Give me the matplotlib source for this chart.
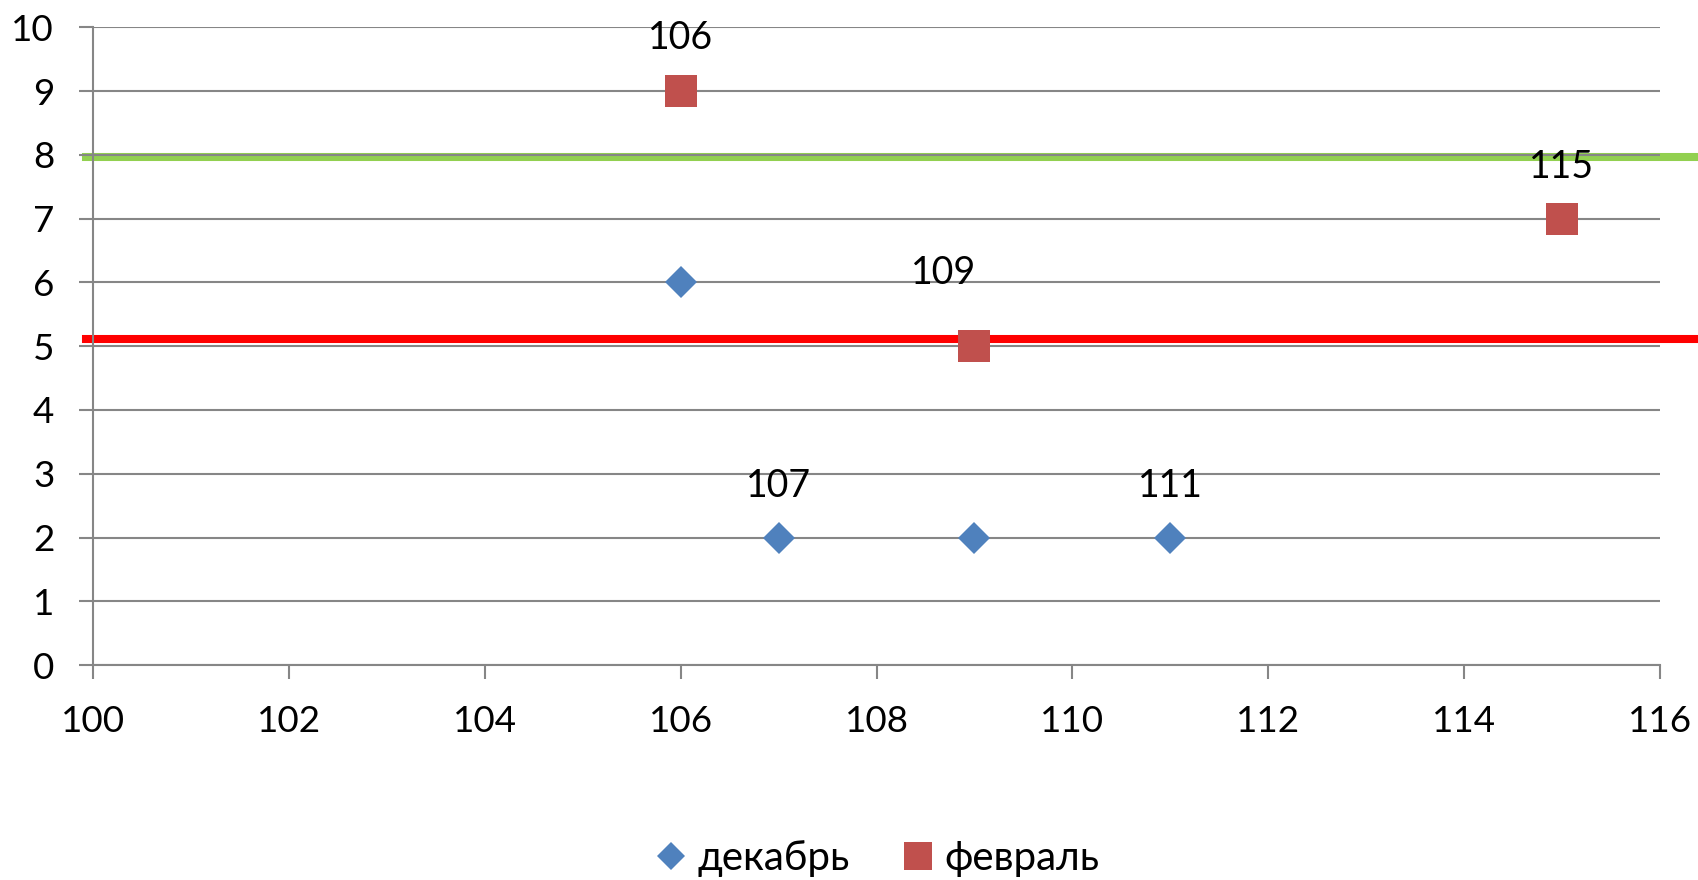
import matplotlib
matplotlib.use("Agg")
import matplotlib.pyplot as plt
from matplotlib.lines import Line2D

plt.rcParams["font.family"] = ["Lato", "Open Sans", "DejaVu Sans"]

# data
dec_x = [106, 107, 109, 111]
dec_y = [6, 2, 2, 2]
feb_x = [106, 109, 115]
feb_y = [9, 5, 7]
series_names = ["декабрь", "февраль"]

# point labels: (x, y, text)
point_labels = [
    (106, 9, "106"),
    (109, 5, "109"),
    (115, 7, "115"),
    (107, 2, "107"),
    (111, 2, "111"),
]
# offsets (points) for the labels
label_offsets = [(0, 38), (-22, 53), (0, 37), (0, 37), (0, 37)]

green_level = 7.965
red_level = 5.12

x_ticks = list(range(100, 117, 2))
y_ticks = list(range(0, 11))

BLUE = "#4F81BD"
RED = "#C0504D"
GRID = "#868686"

fig = plt.figure(figsize=(16.98, 8.8), dpi=100)
ax = fig.add_axes([0.0548, 0.2443, 0.9228, 0.7245])

ax.axhline(green_level, xmin=-0.0045, xmax=1.03, color="#92D050", linewidth=5.8,
           clip_on=False, zorder=0.8)
ax.axhline(red_level, xmin=-0.0045, xmax=1.03, color="#FF0000", linewidth=5.8,
           clip_on=False, zorder=0.8)

ax.plot(dec_x, dec_y, linestyle="none", marker="D", markersize=16.8,
        color=BLUE, markeredgewidth=0, zorder=3)
ax.plot(feb_x, feb_y, linestyle="none", marker="s", markersize=23.5,
        color=RED, markeredgewidth=0, zorder=3)

for (x, y, t), (dx, dy) in zip(point_labels, label_offsets):
    ax.annotate(t, (x, y), xytext=(dx, dy), textcoords="offset points",
                ha="center", va="center", fontsize=27, zorder=4)

ax.set_xlim(100, 116)
ax.set_ylim(0, 10)
ax.set_xticks(x_ticks)
ax.set_yticks(y_ticks)
ax.grid(axis="y", color=GRID, linewidth=1.5)
ax.set_axisbelow("line")

for side in ["top", "right"]:
    ax.spines[side].set_visible(False)
for side in ["left", "bottom"]:
    ax.spines[side].set_color(GRID)
    ax.spines[side].set_linewidth(1.5)

ax.tick_params(axis="both", colors=GRID, labelcolor="black", labelsize=26.5,
               length=10, width=1.5)
ax.tick_params(axis="y", pad=18)
ax.tick_params(axis="x", pad=19)

handles = [
    Line2D([], [], linestyle="none", marker="D", markersize=14.5, color=BLUE,
           markeredgewidth=0),
    Line2D([], [], linestyle="none", marker="s", markersize=19.5, color=RED,
           markeredgewidth=0),
]
fig.legend(handles, series_names, loc="center", bbox_to_anchor=(0.516, 0.024),
           ncol=2, frameon=False, fontsize=29, handlelength=0.9,
           handletextpad=0.2, columnspacing=1.25, borderpad=0)

fig.savefig("out.png", dpi=100)
